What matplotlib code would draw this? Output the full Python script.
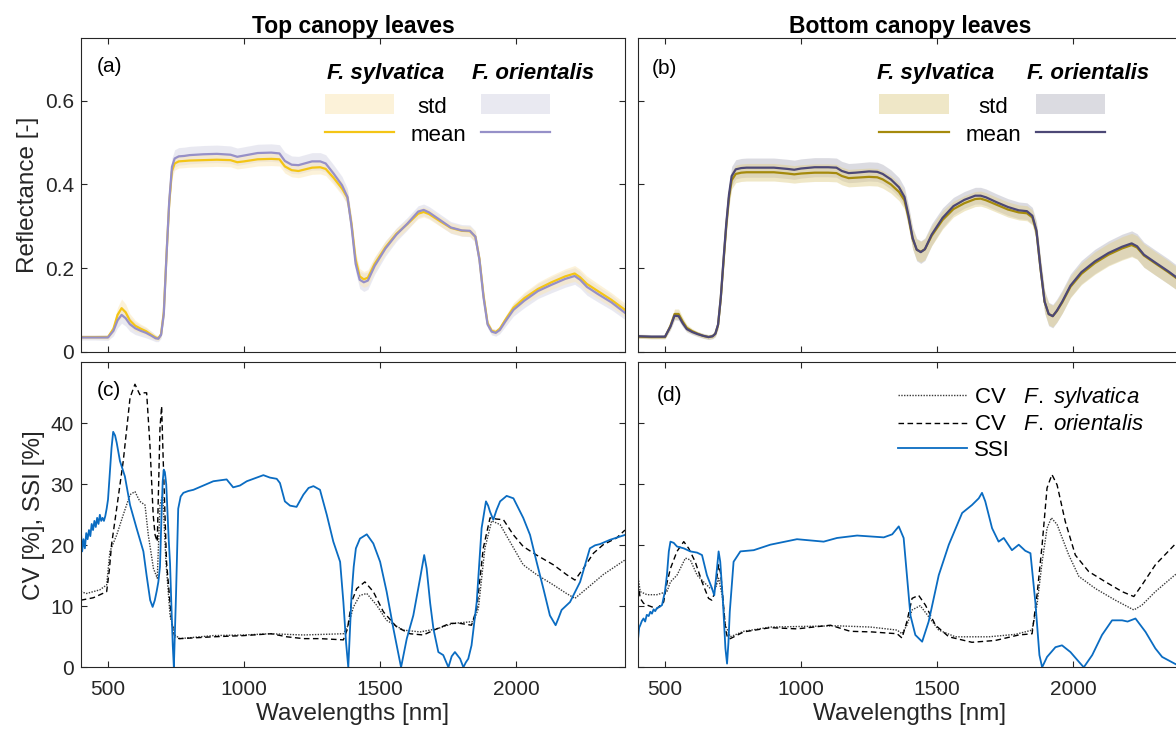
import numpy as np
import matplotlib
matplotlib.use('Agg')
import matplotlib.pyplot as plt
from matplotlib.patches import Rectangle

plt.rcParams['font.family'] = ['Liberation Sans', 'DejaVu Sans']
plt.rcParams['mathtext.fontset'] = 'custom'
plt.rcParams['mathtext.rm'] = 'Liberation Sans'
plt.rcParams['mathtext.it'] = 'Liberation Sans:italic'

# wavelength grid of the reflectance panels [nm]
wl_refl = [400, 450, 500, 520, 535,
           550, 565, 580, 600, 620,
           640, 660, 675, 685, 695,
           705, 715, 725, 735, 745,
           760, 780, 800, 850, 900,
           950, 975, 1000, 1050, 1100,
           1130, 1150, 1175, 1200, 1250,
           1280, 1300, 1330, 1360, 1380,
           1395, 1410, 1425, 1440, 1455,
           1480, 1520, 1560, 1600, 1640,
           1660, 1680, 1720, 1760, 1800,
           1830, 1850, 1865, 1880, 1895,
           1910, 1925, 1940, 1960, 1990,
           2030, 2080, 2130, 2180, 2215,
           2235, 2260, 2300, 2350, 2400]

# (a) top canopy: mean and std reflectance
top_sy_mean = [.035, .035, .035, .055, .088,
               .104, .094, .075, .062, .055,
               .049, .040, .034, .032, .042,
               .095, .232, .355, .432, .450,
               .455, .456, .457, .458, .459,
               .458, .453, .455, .460, .461,
               .460, .443, .434, .432, .440,
               .441, .437, .415, .390, .368,
               .305, .220, .180, .173, .177,
               .210, .250, .282, .305, .330,
               .334, .329, .312, .296, .289,
               .288, .275, .222, .135, .068,
               .050, .047, .055, .076, .105,
               .128, .150, .166, .180, .187,
               .178, .162, .145, .124, .100]
top_or_mean = [.034, .034, .034, .050, .075,
               .088, .080, .066, .056, .050,
               .045, .038, .032, .031, .040,
               .090, .230, .360, .442, .462,
               .467, .468, .470, .472, .473,
               .471, .466, .469, .475, .476,
               .474, .456, .447, .446, .455,
               .455, .450, .425, .398, .370,
               .300, .210, .172, .166, .170,
               .205, .247, .280, .306, .335,
               .339, .333, .315, .297, .290,
               .289, .275, .220, .130, .065,
               .048, .045, .052, .072, .100,
               .122, .145, .160, .174, .181,
               .172, .155, .138, .118, .093]
top_sy_std = [.004, .004, .005, .010, .018,
              .022, .020, .016, .013, .011,
              .010, .008, .006, .005, .006,
              .010, .015, .016, .016, .016,
              .016, .016, .016, .016, .016,
              .016, .016, .016, .016, .016,
              .016, .016, .016, .016, .016,
              .016, .016, .016, .016, .016,
              .017, .018, .019, .019, .019,
              .017, .015, .013, .012, .012,
              .012, .012, .012, .012, .012,
              .012, .012, .011, .009, .007,
              .006, .006, .007, .009, .012,
              .014, .016, .017, .018, .019,
              .019, .019, .018, .017, .016]
top_or_std = [.006, .006, .007, .012, .018,
              .020, .019, .017, .015, .013,
              .012, .010, .008, .007, .008,
              .012, .018, .020, .021, .021,
              .021, .021, .021, .021, .021,
              .021, .021, .021, .021, .021,
              .021, .021, .021, .021, .021,
              .021, .021, .021, .021, .020,
              .020, .020, .021, .022, .021,
              .020, .018, .016, .015, .014,
              .014, .014, .014, .014, .014,
              .014, .014, .013, .011, .009,
              .008, .008, .009, .012, .015,
              .017, .018, .019, .020, .020,
              .020, .020, .019, .018, .016]

# (b) bottom canopy: mean and std reflectance
bot_sy_mean = [.036, .035, .035, .062, .090,
               .090, .072, .057, .049, .043,
               .038, .035, .037, .043, .064,
               .128, .215, .300, .368, .410,
               .425, .428, .429, .429, .429,
               .426, .424, .426, .428, .428,
               .427, .420, .415, .416, .418,
               .417, .412, .400, .382, .362,
               .320, .270, .244, .239, .245,
               .277, .315, .341, .355, .365,
               .366, .362, .351, .340, .333,
               .331, .321, .287, .198, .119,
               .090, .085, .097, .118, .155,
               .186, .212, .232, .247, .255,
               .249, .230, .212, .190, .166]
bot_or_mean = [.037, .036, .036, .060, .086,
               .085, .068, .054, .047, .042,
               .038, .035, .037, .043, .065,
               .130, .220, .305, .375, .420,
               .436, .439, .440, .440, .440,
               .437, .435, .438, .441, .441,
               .440, .432, .427, .428, .431,
               .430, .425, .412, .393, .370,
               .325, .272, .244, .238, .245,
               .280, .320, .348, .363, .373,
               .373, .369, .357, .346, .338,
               .336, .325, .290, .200, .120,
               .090, .085, .098, .120, .158,
               .190, .216, .236, .251, .259,
               .252, .232, .214, .192, .168]
bot_sy_std = [.004, .004, .004, .008, .012,
              .012, .010, .008, .006, .005,
              .005, .005, .005, .006, .009,
              .014, .019, .021, .021, .021,
              .021, .021, .021, .021, .021,
              .021, .021, .021, .021, .021,
              .021, .021, .021, .021, .021,
              .021, .021, .021, .021, .021,
              .023, .024, .025, .025, .025,
              .024, .022, .019, .018, .018,
              .018, .018, .018, .018, .018,
              .018, .018, .020, .023, .025,
              .026, .026, .026, .026, .026,
              .026, .027, .027, .028, .028,
              .028, .028, .028, .028, .027]
bot_or_std = [.005, .005, .005, .008, .010,
              .010, .009, .007, .006, .006,
              .006, .006, .006, .007, .010,
              .015, .020, .023, .023, .023,
              .023, .023, .023, .023, .023,
              .023, .023, .023, .023, .023,
              .023, .023, .023, .023, .023,
              .023, .023, .023, .023, .023,
              .025, .026, .027, .027, .027,
              .026, .024, .021, .020, .020,
              .020, .020, .020, .020, .020,
              .020, .020, .022, .025, .027,
              .028, .028, .028, .028, .028,
              .028, .029, .029, .030, .030,
              .030, .030, .030, .030, .029]

# (c) top canopy: CV and SSI [%], (wavelength, value)
top_cv_sy = [(400, 12.4), (421, 12.1), (470, 12.7), (495, 13.5), (507, 19.0),
             (532, 21.7), (556, 25.0), (581, 28.3), (599, 28.8), (617, 27.2),
             (636, 26.6), (648, 21.7), (667, 16.2), (681, 14.6), (691, 26.6),
             (701, 28.3), (713, 17.3), (728, 8.5), (746, 5.3), (764, 4.7),
             (887, 5.2), (1000, 5.3), (1095, 5.5), (1218, 5.3), (1365, 5.5),
             (1383, 6.9), (1402, 9.9), (1426, 11.8), (1451, 12.1), (1487, 10.2),
             (1524, 7.7), (1585, 6.1), (1647, 5.8), (1708, 6.3), (1769, 7.2),
             (1843, 7.5), (1861, 9.6), (1885, 19.5), (1910, 24.0), (1941, 23.4),
             (1977, 20.6), (2026, 16.8), (2075, 15.2), (2137, 13.5), (2185, 12.1),
             (2216, 11.3), (2259, 12.9), (2320, 15.2), (2400, 17.6)]
top_cv_or = [(400, 11.0), (446, 11.4), (495, 12.4), (505, 16.0), (513, 20.1),
             (532, 26.1), (556, 33.8), (581, 44.2), (599, 46.4), (617, 44.7),
             (630, 45.0), (642, 45.0), (654, 36.5), (666, 25.0), (673, 21.7),
             (681, 20.6), (686, 30.0), (691, 39.2), (697, 42.8), (703, 33.8),
             (715, 17.3), (734, 7.4), (746, 4.8), (764, 4.7), (887, 5.0),
             (1000, 5.2), (1100, 5.5), (1157, 5.0), (1218, 4.7), (1279, 4.7),
             (1365, 4.5), (1380, 6.3), (1395, 10.7), (1414, 12.9), (1444, 14.0),
             (1475, 12.4), (1512, 9.1), (1561, 6.6), (1610, 5.5), (1659, 5.3),
             (1708, 6.3), (1757, 7.2), (1794, 7.2), (1836, 6.9), (1855, 9.6),
             (1879, 19.5), (1904, 24.5), (1928, 24.3), (1953, 24.2), (1990, 21.7),
             (2026, 19.8), (2075, 18.4), (2137, 16.8), (2185, 15.2), (2216, 14.3),
             (2247, 16.2), (2284, 18.7), (2320, 20.1), (2369, 21.2), (2400, 22.5)]
top_ssi = [(400, 22.5), (405, 19.0), (410, 21.0), (415, 19.5), (420, 22.0),
           (425, 21.0), (430, 22.5), (435, 21.5), (440, 23.5), (445, 22.5),
           (450, 24.0), (455, 23.0), (460, 24.5), (465, 23.5), (470, 25.0),
           (475, 24.0), (480, 24.5), (485, 24.0), (490, 24.8), (495, 26.0),
           (500, 27.5), (507, 32.0), (513, 36.0), (519, 38.6), (526, 38.0),
           (532, 36.8), (544, 33.8), (562, 31.3), (581, 26.6), (605, 22.8),
           (630, 19.0), (642, 15.0), (655, 11.0), (664, 9.9), (672, 11.0),
           (679, 12.5), (685, 14.0), (691, 16.5), (696, 24.0), (701, 30.5),
           (705, 32.4), (709, 32.0), (714, 30.0), (718, 26.0), (723, 21.0),
           (728, 17.0), (733, 10.0), (738, 3.6), (742, 0.0), (746, 6.0),
           (750, 12.0), (758, 26.0), (767, 28.0), (777, 28.6), (795, 28.9),
           (814, 29.1), (850, 29.8), (887, 30.5), (936, 30.8), (960, 29.5),
           (985, 29.8), (1010, 30.5), (1040, 31.0), (1071, 31.5), (1095, 31.1),
           (1120, 30.9), (1132, 30.2), (1150, 27.2), (1169, 26.5), (1193, 26.3),
           (1218, 28.3), (1237, 29.4), (1255, 29.7), (1279, 29.1), (1304, 25.0),
           (1328, 20.6), (1353, 17.3), (1365, 10.7), (1375, 4.0), (1383, 0.0),
           (1389, 6.0), (1395, 11.8), (1403, 16.5), (1411, 19.5), (1426, 21.1),
           (1451, 21.8), (1475, 20.3), (1500, 17.3), (1524, 12.4), (1549, 6.3),
           (1577, 0.0), (1598, 4.7), (1622, 8.5), (1647, 14.6), (1662, 18.4),
           (1671, 16.2), (1684, 10.5), (1696, 6.3), (1714, 2.5), (1732, 2.0),
           (1751, 0.0), (1763, 1.8), (1775, 2.5), (1794, 1.4), (1806, 0.0),
           (1815, 0.8), (1824, 1.4), (1836, 3.6), (1855, 10.7), (1873, 22.8),
           (1889, 27.2), (1897, 26.5), (1904, 25.5), (1916, 24.2), (1928, 25.8),
           (1941, 27.2), (1965, 28.1), (1990, 27.7), (2026, 24.5), (2051, 21.7),
           (2075, 17.3), (2100, 12.9), (2124, 8.5), (2145, 6.9), (2155, 8.0),
           (2167, 9.4), (2198, 10.7), (2235, 14.0), (2271, 19.5), (2290, 20.0),
           (2308, 20.2), (2345, 20.9), (2400, 21.7)]

# (d) bottom canopy: CV and SSI [%]
bot_cv_sy = [(400, 15.1), (409, 12.4), (434, 11.9), (470, 11.9), (507, 12.4),
             (520, 14.0), (544, 15.1), (575, 17.9), (593, 17.6), (618, 15.1),
             (642, 14.0), (667, 12.9), (685, 12.9), (697, 14.6), (710, 11.8),
             (722, 6.9), (740, 5.0), (789, 5.9), (887, 6.6), (1132, 6.8),
             (1255, 6.6), (1353, 6.1), (1371, 5.5), (1389, 6.9), (1408, 9.4),
             (1438, 10.1), (1469, 8.3), (1506, 6.1), (1567, 5.0), (1690, 5.0),
             (1788, 5.4), (1849, 6.1), (1867, 10.2), (1886, 17.3), (1904, 22.8),
             (1920, 24.5), (1941, 23.4), (1984, 18.4), (2021, 14.9), (2082, 12.9),
             (2155, 11.0), (2223, 9.4), (2253, 10.2), (2302, 12.4), (2373, 15.1),
             (2400, 16.0)]
bot_cv_or = [(400, 14.0), (409, 11.3), (421, 10.5), (434, 10.2), (470, 9.6),
             (495, 10.7), (508, 14.0), (520, 16.2), (544, 19.0), (569, 20.6),
             (587, 19.5), (611, 17.3), (636, 14.0), (660, 11.3), (672, 11.0),
             (679, 11.8), (690, 14.5), (697, 16.8), (704, 15.5), (710, 12.9),
             (722, 6.3), (730, 4.8), (740, 4.7), (789, 5.8), (887, 6.5),
             (985, 6.3), (1108, 6.9), (1181, 5.9), (1260, 5.8), (1353, 5.5),
             (1371, 4.8), (1389, 7.5), (1408, 11.3), (1432, 11.8), (1457, 10.2),
             (1494, 6.9), (1543, 5.0), (1628, 4.1), (1714, 4.4), (1800, 5.3),
             (1849, 5.5), (1867, 11.8), (1886, 20.1), (1904, 29.4), (1922, 31.6),
             (1941, 29.9), (1971, 23.9), (2008, 18.4), (2057, 15.7), (2119, 14.0),
             (2180, 12.4), (2223, 11.6), (2253, 13.5), (2302, 16.8), (2373, 20.1),
             (2400, 21.0)]
bot_ssi = [(400, 4.2), (405, 6.5), (409, 6.9), (415, 7.6), (421, 8.0),
           (427, 7.5), (433, 8.6), (440, 8.4), (446, 9.1), (452, 8.8),
           (458, 9.5), (464, 9.2), (470, 9.7), (480, 9.9), (489, 10.2),
           (500, 12.5), (507, 15.1), (514, 19.0), (520, 20.6), (532, 20.4),
           (544, 19.8), (569, 19.5), (593, 19.0), (618, 18.8), (636, 18.4),
           (654, 15.1), (673, 12.9), (681, 11.8), (691, 16.2), (697, 19.0),
           (703, 17.3), (713, 10.7), (722, 3.1), (728, 0.6), (733, 4.0),
           (738, 9.1), (752, 17.3), (777, 19.0), (826, 19.2), (887, 20.1),
           (985, 21.0), (1083, 20.6), (1132, 21.2), (1206, 21.6), (1304, 21.3),
           (1335, 21.8), (1359, 23.1), (1377, 21.2), (1389, 15.1), (1402, 8.5),
           (1420, 5.3), (1445, 4.2), (1469, 7.5), (1506, 15.1), (1543, 20.1),
           (1592, 25.3), (1628, 26.6), (1653, 27.7), (1665, 28.6), (1677, 27.2),
           (1702, 22.8), (1726, 20.6), (1745, 21.2), (1775, 19.2), (1800, 20.1),
           (1824, 19.1), (1843, 18.7), (1861, 10.7), (1876, 2.0), (1886, 0.0),
           (1904, 1.7), (1935, 3.3), (1959, 3.6), (1990, 2.5), (2021, 0.9),
           (2039, 0.0), (2070, 2.0), (2106, 5.3), (2143, 7.7), (2180, 7.7),
           (2200, 7.5), (2229, 8.0), (2266, 5.8), (2302, 3.1), (2327, 1.7),
           (2373, 0.6), (2400, 0.0)]

AX = '#262626'
W, H = 1176, 735


def box(x0, y_top, w, h):
    return [x0 / W, 1 - (y_top + h) / H, w / W, h / H]


def style(ax, top):
    ax.set_xlim(400, 2400)
    ax.set_xticks([500, 1000, 1500, 2000])
    ax.tick_params(direction='in', top=True, right=True, length=4, width=0.8,
                   colors=AX, labelsize=15)
    ax.tick_params(axis='x', pad=9)
    ax.tick_params(axis='y', pad=5)
    for s in ax.spines.values():
        s.set_color(AX)
        s.set_linewidth(0.8)
    if top:
        ax.set_ylim(0, 0.75)
        ax.set_yticks([0, 0.2, 0.4, 0.6])
        ax.set_yticklabels(['0', '0.2', '0.4', '0.6'])
        ax.tick_params(labelbottom=False)
    else:
        ax.set_ylim(0, 50)
        ax.set_yticks([0, 10, 20, 30, 40])
        ax.set_xlabel('Wavelengths [nm]', fontsize=17.5, color=AX, labelpad=3)


def spectra(ax, m_sy, s_sy, m_or, s_or, c_sy, c_or, f_sy, f_or):
    wl = np.array(wl_refl)
    m_sy, s_sy = np.array(m_sy), np.array(s_sy)
    m_or, s_or = np.array(m_or), np.array(s_or)
    ax.fill_between(wl, m_or - s_or, m_or + s_or, color=f_or, alpha=0.5, lw=0)
    ax.fill_between(wl, m_sy - s_sy, m_sy + s_sy, color=f_sy, alpha=0.5, lw=0)
    ax.plot(wl, m_sy, color=c_sy, lw=1.6)
    ax.plot(wl, m_or, color=c_or, lw=1.6)


def spec_key(ax, hx, px, tx, c_sy, c_or, f_sy, f_or):
    # little two-column key: species headers, std patches, mean lines
    kw = dict(transform=ax.transAxes, fontsize=16, color='black')
    ax.text(hx[0], 0.869, 'F. sylvatica', fontweight='bold', style='italic',
            ha='left', va='baseline', **kw)
    ax.text(hx[1], 0.869, 'F. orientalis', fontweight='bold', style='italic',
            ha='left', va='baseline', **kw)
    for x, fc, c in zip(px, (f_sy, f_or), (c_sy, c_or)):
        ax.add_patch(Rectangle((x, 0.757), 0.127, 0.066, transform=ax.transAxes,
                               facecolor=fc, alpha=0.5, lw=0))
        ax.plot([x, x + 0.127], [0.699, 0.699], transform=ax.transAxes,
                color=c, lw=1.6)
    ax.text(tx[0], 0.760, 'std', ha='center', va='baseline', **kw)
    ax.text(tx[1], 0.672, 'mean', ha='center', va='baseline', **kw)


def cv_panel(ax, cv_sy, cv_or, ssi):
    a = np.array(cv_sy)
    b = np.array(cv_or)
    c = np.array(ssi)
    l1, = ax.plot(a[:, 0], a[:, 1], color='#3a3a3a', lw=1.0, ls=(0, (1, 1)))
    l2, = ax.plot(b[:, 0], b[:, 1], color='black', lw=1.0, ls=(0, (4, 2.5)))
    l3, = ax.plot(c[:, 0], c[:, 1], color='#0a6cc2', lw=1.3)
    return l1, l2, l3


fig = plt.figure(figsize=(11.76, 7.35), dpi=100)
ax_a = fig.add_axes(box(80.8, 38, 544.2, 313.7))
ax_b = fig.add_axes(box(637.8, 38, 544.2, 313.7))
ax_c = fig.add_axes(box(80.8, 362.3, 544.2, 305))
ax_d = fig.add_axes(box(637.8, 362.3, 544.2, 305))

# top row: reflectance
spectra(ax_a, top_sy_mean, top_sy_std, top_or_mean, top_or_std,
        '#f4c515', '#9690c8', '#fbe7b5', '#d5d5e5')
spectra(ax_b, bot_sy_mean, bot_sy_std, bot_or_mean, bot_or_std,
        '#a58a0c', '#4c4876', '#e1d191', '#b9b9c5')
spec_key(ax_a, (0.452, 0.718), (0.449, 0.736), (0.645, 0.657),
         '#f4c515', '#9690c8', '#fbe7b5', '#d5d5e5')
spec_key(ax_b, (0.439, 0.715), (0.444, 0.731), (0.653, 0.653),
         '#a58a0c', '#4c4876', '#e1d191', '#b9b9c5')

# bottom row: CV and SSI
cv_panel(ax_c, top_cv_sy, top_cv_or, top_ssi)
lines = cv_panel(ax_d, bot_cv_sy, bot_cv_or, bot_ssi)
ax_d.legend(lines, ['CV   $\\mathit{F.}$ $\\mathit{sylvatica}$',
                    'CV   $\\mathit{F.}$ $\\mathit{orientalis}$', 'SSI'],
            loc='upper left', bbox_to_anchor=(0.479, 0.926), frameon=False,
            fontsize=16, handlelength=3.1, handletextpad=0.3, labelspacing=0.2,
            borderpad=0, borderaxespad=0)

for ax, top in ((ax_a, True), (ax_b, True), (ax_c, False), (ax_d, False)):
    style(ax, top)
ax_b.tick_params(labelleft=False)
ax_d.tick_params(labelleft=False)

ax_a.set_title('Top canopy leaves', fontsize=16.5, fontweight='bold', pad=2)
ax_b.set_title('Bottom canopy leaves', fontsize=16.5, fontweight='bold', pad=2)
ax_a.set_ylabel('Reflectance [-]', fontsize=17.5, color=AX, labelpad=4)
ax_c.set_ylabel('CV [%], SSI [%]', fontsize=17.5, color=AX, labelpad=4)

for ax, lab, x, y in ((ax_a, '(a)', 0.030, 0.908), (ax_b, '(b)', 0.025, 0.904),
                      (ax_c, '(c)', 0.029, 0.907), (ax_d, '(d)', 0.035, 0.892)):
    ax.text(x, y, lab, transform=ax.transAxes, fontsize=15, ha='left', va='center')

fig.savefig('out.png', dpi=100)
